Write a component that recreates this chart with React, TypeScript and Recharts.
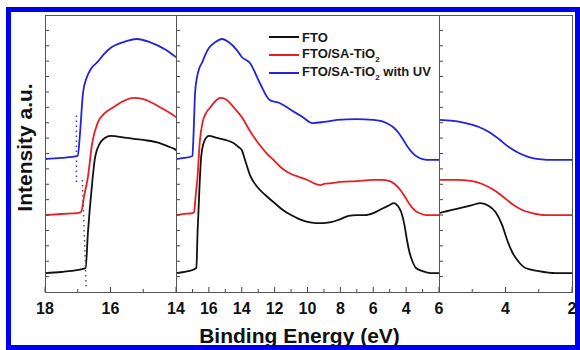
import React from 'react';
import { LineChart, Line, XAxis, YAxis, ReferenceLine, Legend } from 'recharts';

// binding energy (eV) / intensity (a.u.)
const ftoEnergy = [18, 17.5, 17.0, 16.76, 16.69, 16.56, 16.47, 16.32, 16.17, 16.0, 15.5, 15.0, 14.5, 14.2, 14.0, 13.8, 13.5, 13.0, 12.5, 12.0, 11.5, 11.0, 10.5, 10.0, 9.5, 9.0, 8.5, 8.0, 7.5, 7.0, 6.5, 6.0, 5.5, 5.0, 4.75, 4.5, 4.3, 4.1, 3.95, 3.8, 3.6, 3.4, 3.0, 2.5, 2.0];
const ftoIntensity = [1.23, 1.3, 1.43, 1.56, 3.83, 7.08, 8.77, 9.68, 10.01, 10.14, 10.01, 9.88, 9.68, 9.42, 9.23, 8.58, 7.6, 6.76, 6.24, 5.78, 5.33, 5.0, 4.74, 4.55, 4.48, 4.48, 4.55, 4.74, 4.94, 5.0, 5.0, 5.13, 5.39, 5.65, 5.78, 5.59, 5.2, 4.35, 3.38, 2.6, 1.95, 1.56, 1.36, 1.23, 1.23];

const saEnergy = [18, 17.5, 17.0, 16.9, 16.8, 16.69, 16.56, 16.38, 16.2, 15.9, 15.6, 15.3, 15.0, 14.5, 14.0, 13.5, 13.0, 12.5, 12.0, 11.5, 11.0, 10.5, 10.0, 9.5, 9.2, 9.0, 8.5, 8.0, 7.0, 6.0, 5.5, 5.0, 4.7, 4.4, 4.1, 3.8, 3.5, 3.2, 2.8, 2.0];
const saIntensity = [5.0, 5.07, 5.13, 5.2, 6.3, 7.47, 9.68, 11.05, 11.57, 12.02, 12.41, 12.61, 12.54, 12.02, 11.37, 10.46, 9.68, 9.03, 8.51, 7.99, 7.67, 7.47, 7.28, 7.02, 6.95, 7.02, 7.08, 7.15, 7.21, 7.28, 7.28, 7.21, 7.02, 6.69, 6.24, 5.72, 5.33, 5.13, 5.0, 5.0];

const uvEnergy = [18, 17.5, 17.0, 16.93, 16.84, 16.72, 16.6, 16.4, 16.2, 16.0, 15.6, 15.2, 14.8, 14.3, 14.0, 13.5, 12.9, 12.3, 11.7, 11.0, 10.3, 9.7, 9.0, 8.2, 7.0, 6.0, 5.5, 5.2, 4.8, 4.5, 4.2, 3.9, 3.6, 3.3, 3.0, 2.5, 2.0];
const uvIntensity = [8.64, 8.71, 8.84, 10.33, 12.93, 13.97, 14.49, 14.94, 15.46, 15.85, 16.24, 16.44, 16.24, 15.72, 15.27, 14.88, 13.58, 12.48, 12.28, 11.83, 11.37, 10.98, 11.05, 11.18, 11.24, 11.18, 11.11, 10.98, 10.72, 10.4, 9.94, 9.42, 9.03, 8.77, 8.64, 8.58, 8.58];

const seriesNames = ['FTO', 'FTO/SA-TiO2', 'FTO/SA-TiO2 with UV'];

// onset extrapolation (dotted) lines in the 18-14 eV panel
const uvOnsetEnergy = [17.04, 17.04];
const uvOnsetIntensity = [7.15, 11.7];
const ftoOnsetEnergy = [16.86, 16.74];
const ftoOnsetIntensity = [7.28, 0.2];

const leftTicks = [18, 17, 16, 15, 14];
const midTicks = [17, 16, 15, 14, 13, 12, 11, 10, 9, 8, 7, 6, 5, 4, 3];
const rightTicks = [6, 5, 4, 3, 2];
const intensityTicks = [1, 2, 3, 4, 5, 6, 7, 8, 9, 10, 11, 12, 13, 14, 15, 16, 17];

const FONT = '"Liberation Sans", Arial, Helvetica, sans-serif';
const COLORS = ['#111111', '#ec1c24', '#2323dc'];

const toPoints = (e: number[], v: number[]) => e.map((x, i) => ({ energy: x, intensity: v[i] }));
const ftoData = toPoints(ftoEnergy, ftoIntensity);
const saData = toPoints(saEnergy, saIntensity);
const uvData = toPoints(uvEnergy, uvIntensity);

const panels = [
  { id: 'a', domain: [14, 18], left: 45, right: 176, ticks: leftTicks },
  { id: 'b', domain: [2, 18], left: 176, right: 439, ticks: midTicks },
  { id: 'c', domain: [2, 6], left: 439, right: 572, ticks: rightTicks },
];
const PLOT_TOP = 15;
const PLOT_BOTTOM = 292;

const withSub = (s: string) => {
  const parts = s.split('TiO2');
  if (parts.length === 1) return s;
  return (
    <>
      {parts[0]}TiO<sub style={{ fontSize: 8 }}>2</sub>{parts[1]}
    </>
  );
};

// eslint-disable-next-line @typescript-eslint/no-explicit-any
const XTick = (props: any) => {
  const { x, y, payload } = props;
  const major = payload.value % 2 === 0;
  return (
    <g>
      <line x1={x} x2={x} y1={y} y2={y - (major ? 5 : 3)} stroke="#444" strokeWidth={1} />
      {major && (
        <text x={x} y={y + 22} textAnchor="middle" fontFamily={FONT} fontWeight="bold" fontSize={16} fill="#111">
          {payload.value}
        </text>
      )}
    </g>
  );
};

const NoTick = () => <g />;

// eslint-disable-next-line @typescript-eslint/no-explicit-any
const renderLegend = (props: any) => {
  const { payload } = props;
  return (
    <div style={{ fontFamily: FONT, fontWeight: 'bold', fontSize: 13, color: '#1a1a1a' }}>
      {payload.map((entry: { value: string; color: string }, index: number) => (
        <div key={`leg-${index}`} style={{ display: 'flex', alignItems: 'center', height: 18, whiteSpace: 'nowrap' }}>
          <span style={{ display: 'inline-block', width: 30, height: 2, background: entry.color, marginRight: 3 }} />
          <span>{withSub(entry.value)}</span>
        </div>
      ))}
    </div>
  );
};

const App: React.FC = () => {
  return (
    <div style={{ position: 'absolute', left: 0, top: 0, width: 580, height: 350, background: '#fff', overflow: 'hidden' }}>
      {panels.map((p) => (
        <div key={p.id} style={{ position: 'absolute', left: 0, top: 0 }}>
          <LineChart
            width={580}
            height={350}
            margin={{ top: PLOT_TOP, left: p.left, right: 580 - p.right, bottom: 350 - PLOT_BOTTOM - 40 }}
          >
            <XAxis
              dataKey="energy"
              type="number"
              domain={p.domain}
              reversed
              allowDataOverflow
              ticks={p.ticks}
              interval={0}
              tickLine={false}
              axisLine={false}
              tickSize={0}
              tickMargin={0}
              height={40}
              tick={<XTick />}
              label={
                p.id === 'b'
                  ? {
                      // eslint-disable-next-line @typescript-eslint/no-explicit-any
                      content: (lp: any) => (
                        <text
                          x={lp.viewBox.x + lp.viewBox.width / 2 - 8}
                          y={lp.viewBox.y + 51}
                          textAnchor="middle"
                          fontFamily={FONT}
                          fontWeight="bold"
                          fontSize={21}
                          fill="#111"
                        >
                          Binding Energy (eV)
                        </text>
                      ),
                    }
                  : undefined
              }
            />
            <YAxis
              type="number"
              domain={[0, 18]}
              ticks={intensityTicks}
              interval={0}
              mirror
              allowDataOverflow
              axisLine={false}
              tickSize={4}
              tickLine={{ stroke: '#444' }}
              tick={<NoTick />}
              label={
                p.id === 'a'
                  ? {
                      // eslint-disable-next-line @typescript-eslint/no-explicit-any
                      content: (lp: any) => {
                        const cy = lp.viewBox.y + lp.viewBox.height / 2 - 6;
                        return (
                          <text
                            x={24}
                            y={cy}
                            transform={`rotate(-90, 24, ${cy})`}
                            textAnchor="middle"
                            dominantBaseline="central"
                            fontFamily={FONT}
                            fontWeight="bold"
                            fontSize={21}
                            fill="#111"
                          >
                            Intensity a.u.
                          </text>
                        );
                      },
                    }
                  : undefined
              }
            />
            <Line data={ftoData} dataKey="intensity" name={seriesNames[0]} type="monotone" stroke={COLORS[0]} strokeWidth={1.8} dot={false} isAnimationActive={false} />
            <Line data={saData} dataKey="intensity" name={seriesNames[1]} type="monotone" stroke={COLORS[1]} strokeWidth={1.8} dot={false} isAnimationActive={false} />
            <Line data={uvData} dataKey="intensity" name={seriesNames[2]} type="monotone" stroke={COLORS[2]} strokeWidth={1.8} dot={false} isAnimationActive={false} />
            {p.id === 'a' && (
              <ReferenceLine
                segment={[
                  { x: uvOnsetEnergy[0], y: uvOnsetIntensity[0] },
                  { x: uvOnsetEnergy[1], y: uvOnsetIntensity[1] },
                ]}
                stroke="#3a3ad0"
                strokeWidth={1.5}
                strokeDasharray="1.5 3.5"
              />
            )}
            {p.id === 'a' && (
              <ReferenceLine
                segment={[
                  { x: ftoOnsetEnergy[0], y: ftoOnsetIntensity[0] },
                  { x: ftoOnsetEnergy[1], y: ftoOnsetIntensity[1] },
                ]}
                stroke="#555"
                strokeWidth={1.5}
                strokeDasharray="1.5 3.5"
              />
            )}
            {p.id === 'b' && (
              <Legend
                layout="horizontal"
                verticalAlign="middle"
                align="center"
                content={renderLegend}
                wrapperStyle={{ left: 269, top: 28, width: 'auto', height: 'auto' }}
              />
            )}
          </LineChart>
          <div
            style={{
              position: 'absolute',
              left: p.left,
              top: PLOT_TOP,
              width: p.right - p.left - 1,
              height: PLOT_BOTTOM - PLOT_TOP - 1,
              border: '1px solid #555',
              pointerEvents: 'none',
            }}
          />
        </div>
      ))}
      <div
        style={{
          position: 'absolute',
          left: 6,
          top: 7,
          width: 574,
          height: 343,
          border: '5px solid #0000f0',
          boxSizing: 'border-box',
          pointerEvents: 'none',
        }}
      />
    </div>
  );
};

export default App;
